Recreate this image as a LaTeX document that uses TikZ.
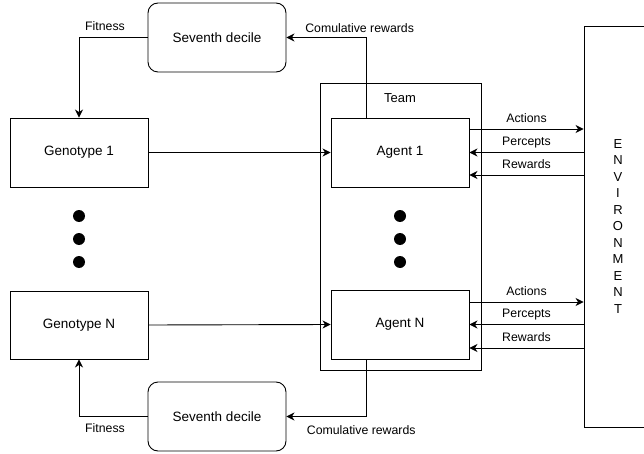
\documentclass[tikz,border=0pt]{standalone}
\usepackage{fontspec}
\setmainfont{Liberation Sans}
\usetikzlibrary{arrows.meta}
\begin{document}
\begin{tikzpicture}[x=1pt,y=-1pt,
  line width=0.9pt,
  box/.style={draw, inner sep=0pt, font=\fontsize{13.5}{16}\selectfont},
  rbox/.style={box, rounded corners=10pt},
  lbl/.style={font=\fontsize{12.3}{14}\selectfont, inner sep=1pt, text height=9pt, text depth=2.5pt},
  arr/.style={-{Stealth[length=8pt,width=8pt,inset=2.5pt]}},
  dot/.style={circle, fill=black, inner sep=0pt, minimum size=12pt}]
\useasboundingbox (0,0) rectangle (644,454);
% boxes
\node[rbox, minimum width=138pt, minimum height=69pt] (sd1) at (217,37.5) {Seventh decile};
\node[rbox, minimum width=138pt, minimum height=69pt] (sd2) at (217,416.5) {Seventh decile};
\node[box, minimum width=138pt, minimum height=69pt] (g1) at (79,152.5) {Genotype 1};
\node[box, minimum width=138pt, minimum height=68pt] (gN) at (79,325) {Genotype N};
\node[box, minimum width=161pt, minimum height=287pt] (team) at (400.5,226.5) {};
\node[lbl, font=\fontsize{13}{15}\selectfont] (teamlbl) at (400,99) {Team};
\node[box, minimum width=138pt, minimum height=69pt] (a1) at (400,152.5) {Agent 1};
\node[box, minimum width=138pt, minimum height=69pt] (aN) at (400,324.5) {Agent N};
\node[box, minimum width=68pt, minimum height=401pt, align=center,
      font=\fontsize{13}{16.5}\selectfont] (env) at (618,226.5)
      {E\\N\\V\\I\\R\\O\\N\\M\\E\\N\\T};
% dots
\node[dot] (d1) at (79,216) {};
\node[dot] (d2) at (79,239) {};
\node[dot] (d3) at (79,262) {};
\node[dot] (e1) at (400,216) {};
\node[dot] (e2) at (400,239) {};
\node[dot] (e3) at (400,262) {};
% fitness
\draw[arr] (sd1.west) -| node[lbl, pos=0.31, above=2.7pt] {Fitness} (g1.north);
\draw[arr] (sd2.west) -| node[lbl, pos=0.31, below=6pt] {Fitness} (gN.south);
% cumulative rewards
\draw[arr] ([xshift=-34pt]a1.north) |- node[lbl, pos=0.54, above=1.5pt] {Comulative rewards} (sd1.east);
\draw[arr] ([xshift=-34pt]aN.south) |- node[lbl, pos=0.53, below=7.5pt] {Comulative rewards} (sd2.east);
% genotype -> agent
\draw[arr] (g1.east) -- (a1.west);
\draw[arr] (gN.east) -- (aN.west);
% agent 1 <-> env
\draw[arr] ([yshift=23.5pt]a1.east) -- node[lbl, above=3pt] {Actions} ([yshift=23.5pt]a1.east -| env.west);
\draw[arr] (a1.east -| env.west) -- node[lbl, above=3pt] {Percepts} (a1.east);
\draw[arr] ([yshift=-22.5pt]a1.east -| env.west) -- node[lbl, above=3pt] {Rewards} ([yshift=-22.5pt]a1.east);
% agent N <-> env
\draw[arr] ([yshift=22.5pt]aN.east) -- node[lbl, above=2.5pt] {Actions} ([yshift=22.5pt]aN.east -| env.west);
\draw[arr] (aN.east -| env.west) -- node[lbl, above=3pt] {Percepts} (aN.east);
\draw[arr] ([yshift=-23.5pt]aN.east -| env.west) -- node[lbl, above=3pt] {Rewards} ([yshift=-23.5pt]aN.east);
\end{tikzpicture}
\end{document}
